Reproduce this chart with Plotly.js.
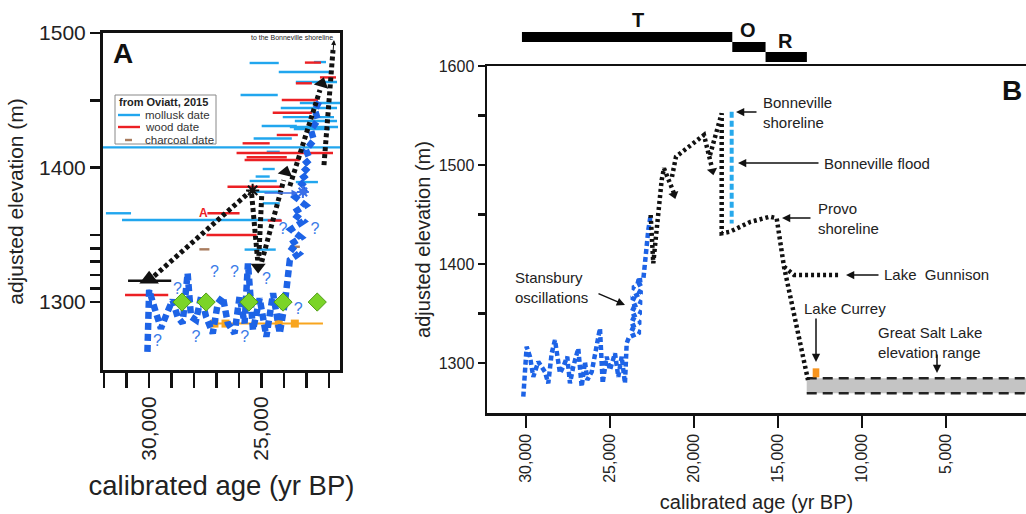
<!DOCTYPE html>
<html><head><meta charset="utf-8">
<script src="https://cdn.plot.ly/plotly-3.0.1.min.js"></script>
<style>html,body{margin:0;padding:0;background:#fff;}#chart{width:1026px;height:514px;}</style>
</head><body><div id="chart"></div>
<script>
// ================= DATA =================
// Panel A – dates from Oviatt (2015): elevation (m), older / younger calibrated age (yr BP)
const mollElev  = [1477.7,1478.4,1471,1463.6,1453.9,1448,1444.2,1437.5,1434.6,1430.9,1430.1,1428.6,1421.6,1415,1411.7,1398.9,1393.3,1390,1389.2,1382,1373.4,1366,1361,1339];
const mollOld   = [25536,22679,24241,23482,25938,23304,24152,24063,23527,25000,23750,23572,25357,32050,24777,24955,25268,25536,23482,25268,24955,31920,31205,25759];
const mollYoung = [24241,22143,21875,21652,24286,21518,21652,21786,21652,23438,21607,21964,23661,21520,24197,24420,24643,24330,22500,24152,24197,30804,24152,24375];
const woodElev  = [1478,1467,1462.6,1450.2,1440.7,1424.2,1418,1410.8,1407.6,1405.6,1385.7,1366,1360.6,1349.8,1305.2];
const woodOld   = [23080,22411,23482,24107,24509,24330,25848,26116,25670,25759,26518,27411,24732,27455,31071];
const woodYoung = [22366,21697,22768,22500,22768,23393,24643,21831,23884,23304,24107,25982,24107,25223,29152];
const charElev  = [1339.2,1341.1];
const charOld   = [27768,23750];
const charYoung = [27322,23304];
// black dated point (triangle) with its age range
const triYr = [30000], triElev = [1317];
const triRangeYr = [30937,29018], triRangeElev = [1315.8,1315.8];
// green diamonds and bar
const greenYr = [28540,27469,25567,24050,22532];
const greenElev = [1300,1300,1300,1300,1300];
const greenBarYr = [29018,28080], greenBarElev = [1300.5,1300.5];
// orange line with squares
const orangeLineYr = [27411,22277], orangeLineElev = [1284,1284];
const orangeYr = [27098,26607,24241,23527];
const orangeElev = [1284,1284,1284,1284];
// Panel A lake-level curve (blue dashed)
const aLakeYr   = [30075,30000,29777,29478,29183,28960,28737,28513,28290,28140,27915,27692,27469,27173,26950,26727,26504,26205,25982,25759,25610,25387,25089,24791,24494,24197,23973,23750,23350,23800,23250,23700,23150,23620,23050,23500,22980,23350,22900,23200,22860,23036,22679,22813,22500,22634,22411];
const aLakeElev = [1263,1309,1296.5,1280.4,1292.8,1301.5,1289.1,1284.2,1321.4,1289.1,1286.6,1304,1289,1276.7,1299,1304,1284.2,1276.7,1304,1284.2,1328.8,1279.2,1302.7,1274.2,1306.5,1276.7,1299,1331.2,1336,1342,1348,1354,1360,1366,1372,1378,1384,1390,1396,1401,1406,1413,1420.4,1427.9,1435.3,1442.7,1450.2];
// Panel A alternative interpretation (black dotted)
const aTrendYr   = [29777,25536,null,25446,25179,null,25000,25134,null,25000,24018,null,23750,22411,null,22232,21830];
const aTrendElev = [1319.3,1381.8,null,1380.3,1331,null,1378.8,1331,null,1329.8,1390.7,null,1386.2,1457.6,null,1401.8,1487.4];
const aArrowYr   = [25156,25156,24018,23929,22411,22322];
const aArrowElev = [1335,1326,1390.7,1396.6,1457.6,1462.5];
const aStarYr = [25402], aStarElev = [1383];
const aBlueStarYr = [23170], aBlueStarElev = [1381.8];
const aQuestYr   = [28737,27098,26205,24791,29630,27915,25759,23380,24050,22634];
const aQuestElev = [1309,1321.3,1321.3,1316.4,1270.5,1273,1273,1294,1353.5,1353.5];

// Panel B – lake hydrograph
const bLakeYr   = [30159,29960,29762,29565,29268,29068,28869,28673,28470,28274,27976,27780,27542,27381,27185,26887,26685,26488,26351,26089,25792,25595,25435,25197,25000,24702,24506,24304,24108,24006,23870,23200,23850,23180,23800,23150,23780,23130,23720,23100,23650,23050,23500,23018,22720,22578];
const bLakeElev = [1266,1316.5,1306.4,1286,1301.3,1296.3,1291,1279.5,1309.8,1323.2,1289.6,1296.3,1306.4,1279.5,1296.3,1314.8,1276,1301.3,1282.8,1291,1319.9,1335,1279.5,1306.4,1293,1309.8,1286,1306.4,1279.5,1319.9,1326,1331,1336,1341,1346,1351,1356,1361,1366,1371,1376,1381,1383,1384,1434.3,1449.5];
const bTrendYr   = [22578,22423,21923,21786,21190,null,21310,21071,19405,18929,null,19048,18351,18351,17857,16667,15476,15078,14643,13214,null,14643,14048,11310];
const bTrendElev = [1449.5,1400.7,1484.8,1496.7,1471.4,null,1488,1508.4,1530.3,1497,null,1510,1552.2,1431,1432.6,1442.4,1447.8,1446.2,1397.3,1282.8,null,1397.3,1389,1389];
const bArrowYr   = [21300,21190,19000,18900];
const bArrowElev = [1476,1470,1502,1494];
const bFloodYr = [17757,17757], bFloodElev = [1553.8,1441];
const gslStartYr = 13290, gslTop = 1284.5, gslBottom = 1269.5;
const curreyYr = [12935,12540], curreyElev = [1285.5,1294.6];
// T / O / R phases
const torLabels = ['T','O','R'];
const torStart  = [30240,17720,15740];
const torEnd    = [17720,15740,13280];
const torLabelYr = [23333,16786,14524];

// ================= STYLE / HELPERS =================
const W = 1026, H = 514;
const FONT = 'Liberation Sans, Arial, Helvetica, sans-serif';
const px = v => v / W, py = v => 1 - v / H;
function bars(e, a, b){ const x=[],y=[]; for(let i=0;i<e.length;i++){x.push(a[i],b[i],null);y.push(e[i],e[i],null);} return {x,y}; }
const base = {hoverinfo:'skip', showlegend:false, cliponaxis:true};
const A = {xaxis:'x', yaxis:'y'}, B = {xaxis:'x2', yaxis:'y2'};

const traces = [];
const mb = bars(mollElev, mollOld, mollYoung);
traces.push({...base,...A, x:mb.x, y:mb.y, mode:'lines', line:{color:'#21a6ee', width:2.4}});
const wb = bars(woodElev, woodOld, woodYoung);
traces.push({...base,...A, x:wb.x, y:wb.y, mode:'lines', line:{color:'#ec2024', width:2.4}});
const cb = bars(charElev, charOld, charYoung);
traces.push({...base,...A, x:cb.x, y:cb.y, mode:'lines', line:{color:'#a97c5e', width:2.4}});
traces.push({...base,...A, x:triRangeYr, y:triRangeElev, mode:'lines', line:{color:'#111', width:2.4}});
traces.push({...base,...A, x:greenBarYr, y:greenBarElev, mode:'lines', line:{color:'#2fd12a', width:2.4}});
traces.push({...base,...A, x:orangeLineYr, y:orangeLineElev, mode:'lines', line:{color:'#f8a51f', width:2}});
traces.push({...base,...A, x:orangeYr, y:orangeElev, mode:'markers', marker:{symbol:'square', size:8, color:'#f8a51f', opacity:1}});
traces.push({...base,...A, x:aLakeYr, y:aLakeElev, mode:'lines', line:{color:'#1d63e6', width:6.5, dash:'7px,4px'}});
traces.push({...base,...A, x:greenYr, y:greenElev, mode:'markers', marker:{symbol:'diamond', size:14, color:'#7bd428', opacity:1, line:{color:'#4f9e16', width:1}}});
traces.push({...base,...A, x:aQuestYr, y:aQuestElev, mode:'text', text:aQuestYr.map(()=>'?'), textfont:{family:FONT, size:16, color:'#3b7be8'}});
traces.push({...base,...A, x:aTrendYr, y:aTrendElev, mode:'lines', line:{color:'#111', width:5, dash:'4px,3px'}});
traces.push({...base,...A, x:aArrowYr, y:aArrowElev, mode:'markers', marker:{symbol:'triangle-up', size:[0,13,0,13,0,13], angleref:'previous', color:'#111', opacity:1, line:{width:0}}});
traces.push({...base,...A, x:triYr, y:triElev, mode:'markers', marker:{symbol:'triangle-up', size:17, color:'#111', opacity:1}});
traces.push({...base,...A, x:aStarYr, y:aStarElev, mode:'markers', marker:{symbol:'asterisk', size:11, line:{color:'#111', width:2}}});
traces.push({...base,...A, x:aBlueStarYr, y:aBlueStarElev, mode:'markers', marker:{symbol:'asterisk', size:10, line:{color:'#3b6fe8', width:2}}});

// Panel B
traces.push({...base,...B, x:[gslStartYr,-3000,-3000,gslStartYr,gslStartYr], y:[gslTop,gslTop,gslBottom,gslBottom,gslTop], mode:'lines', fill:'toself', fillcolor:'#c4c4c4', line:{width:0}});
traces.push({...base,...B, x:[gslStartYr,-3000,null,gslStartYr,-3000], y:[gslTop,gslTop,null,gslBottom,gslBottom], mode:'lines', line:{color:'#222', width:2.5, dash:'10px,6px'}});
traces.push({...base,...B, x:[curreyYr[0],curreyYr[1],curreyYr[1],curreyYr[0],curreyYr[0]], y:[curreyElev[0],curreyElev[0],curreyElev[1],curreyElev[1],curreyElev[0]], mode:'lines', fill:'toself', fillcolor:'#f7941d', line:{width:0}});
traces.push({...base,...B, x:bLakeYr, y:bLakeElev, mode:'lines', line:{color:'#1d63e6', width:4.5, dash:'5px,3px'}});
traces.push({...base,...B, x:bFloodYr, y:bFloodElev, mode:'lines', line:{color:'#27a9ec', width:4, dash:'6px,3px'}});
traces.push({...base,...B, x:bTrendYr, y:bTrendElev, mode:'lines', line:{color:'#111', width:4.5, dash:'3px,3px'}});
traces.push({...base,...B, x:bArrowYr, y:bArrowElev, mode:'markers', marker:{symbol:'triangle-up', size:[0,9,0,9], angleref:'previous', color:'#111', opacity:1, line:{width:0}}});

// shapes
const shapes = [];
const torTop = [32,42,52];
torLabels.forEach((t,i)=>shapes.push({type:'rect', xref:'x2', yref:'paper', x0:torStart[i], x1:torEnd[i], y0:py(torTop[i]+10), y1:py(torTop[i]), fillcolor:'#000', line:{width:0}, layer:'above'}));
// legend box of panel A
shapes.push({type:'rect', xref:'paper', yref:'paper', x0:px(115), x1:px(216), y0:py(144), y1:py(95), line:{color:'#888', width:1}, fillcolor:'rgba(255,255,255,0)'});
shapes.push({type:'line', xref:'paper', yref:'paper', x0:px(118), x1:px(140), y0:py(115), y1:py(115), line:{color:'#21a6ee', width:2.4}});
shapes.push({type:'line', xref:'paper', yref:'paper', x0:px(118), x1:px(140), y0:py(127), y1:py(127), line:{color:'#ec2024', width:2.4}});
shapes.push({type:'line', xref:'paper', yref:'paper', x0:px(125), x1:px(132), y0:py(140), y1:py(140), line:{color:'#a97c5e', width:2.4}});

// annotations
const ann = [];
function txt(t, x, y, o){ ann.push(Object.assign({text:t, x:px(x), y:py(y), xref:'paper', yref:'paper', showarrow:false, xanchor:'left', yanchor:'middle', align:'left', font:{family:FONT, size:15, color:'#222'}}, o||{})); }
function arr(hx, hy, ax, ay, o){ ann.push(Object.assign({text:'', x:px(hx), y:py(hy), xref:'paper', yref:'paper', showarrow:true, ax:ax, ay:ay, arrowhead:2, arrowsize:1.1, arrowwidth:1.5, arrowcolor:'#111'}, o||{})); }
txt('<b>A</b>', 123, 54, {xanchor:'center', font:{family:FONT, size:28, color:'#111'}});
txt('<b>B</b>', 1012, 90, {xanchor:'center', font:{family:FONT, size:28, color:'#111'}});
txt('to the Bonneville shoreline', 292, 38, {xanchor:'center', font:{family:FONT, size:7, color:'#222'}});
arr(334, 40, -1, 12, {arrowwidth:1, arrowsize:1});
txt('<b>from Oviatt, 2015</b>', 117, 102, {font:{family:FONT, size:11, color:'#222'}});
txt('mollusk date', 143, 115, {font:{family:FONT, size:11.5, color:'#333'}});
txt('wood date', 143, 127, {font:{family:FONT, size:11.5, color:'#333'}});
txt('charcoal date', 143, 140, {font:{family:FONT, size:11.5, color:'#333'}});
txt('<b>A</b>', 203, 213, {xanchor:'center', font:{family:FONT, size:12, color:'#ec2024'}});
arr(298, 193, -35, 0, {arrowcolor:'#3b6fe8', arrowwidth:1.3, arrowsize:1});
torLabels.forEach((t,i)=>ann.push({text:'<b>'+t+'</b>', x:torLabelYr[i], xref:'x2', y:py([20,30,41][i]), yref:'paper', showarrow:false, xanchor:'center', yanchor:'middle', font:{family:FONT, size:20, color:'#111'}}));
txt('Bonneville<br>shoreline', 761, 112);
arr(736, 112, 22, 0);
txt('Bonneville flood', 822, 163);
arr(738, 163, 82, 0);
txt('Provo<br>shoreline', 816, 218);
arr(782, 218, 30, 0);
txt('Lake\u00a0 Gunnison', 882, 274);
arr(846, 275, 34, 0);
txt('Stansbury<br>oscillations', 513, 287);
arr(625, 305, -28, -12);
txt('Lake Currey', 802, 308);
arr(816, 362, 0, -45);
txt('Great Salt Lake<br>elevation range', 876, 342);
arr(937, 373, 0, -20);

const axA = {showline:true, linewidth:3, linecolor:'#111', mirror:true, ticks:'outside', tickwidth:2.5, tickcolor:'#111', showgrid:false, zeroline:false, tickfont:{family:FONT, size:21, color:'#222'}};
const axB = {showline:true, linewidth:2.5, linecolor:'#111', ticks:'outside', tickwidth:2.5, tickcolor:'#111', showgrid:false, zeroline:false, tickfont:{family:FONT, size:16, color:'#222'}};

const aXt = [32000,31000,30000,29000,28000,27000,26000,25000,24000,23000,22000];
const aYt = [1300,1310,1320,1330,1340,1350,1400,1450,1500];
const bXt = [30000,25000,20000,15000,10000,5000,0];
const bYt = [1300,1350,1400,1450,1500,1550,1600];
const fmt = v => v.toLocaleString('en-US');

const layout = {
  width:W, height:H, margin:{l:0,r:0,t:0,b:0}, paper_bgcolor:'#fff', plot_bgcolor:'rgba(0,0,0,0)',
  showlegend:false, hovermode:false, font:{family:FONT, color:'#222'},
  xaxis:{...axA, domain:[px(103), px(340)], range:[32050,21520], anchor:'y', ticklen:15, tickangle:-90,
    tickvals:aXt, ticktext:aXt.map(v => (v===30000||v===25000)?fmt(v):''),
    title:{text:'calibrated age (yr BP)', font:{family:FONT, size:27.5, color:'#222'}, standoff:17}},
  yaxis:{...axA, domain:[py(370), py(33)], range:[1249.5,1500], anchor:'x', ticklen:10,
    tickvals:aYt, ticktext:aYt.map(v => v%100===0?String(v):''),
    title:{text:'adjusted elevation (m)', font:{family:FONT, size:21, color:'#222'}, standoff:10}},
  xaxis2:{...axB, mirror:true, domain:[px(487), 1], range:[32320,238], anchor:'y2', ticklen:12, tickangle:-90,
    tickvals:bXt, ticktext:bXt.map(fmt),
    title:{text:'calibrated age (yr BP)', font:{family:FONT, size:20, color:'#222'}, standoff:13}},
  yaxis2:{...axB, domain:[py(413), py(66)], range:[1249.5,1600], anchor:'x2', ticklen:7,
    tickvals:bYt, ticktext:bYt.map(v => v%100===0?String(v):''),
    title:{text:'adjusted elevation (m)', font:{family:FONT, size:20, color:'#222'}, standoff:3}},
  shapes:shapes, annotations:ann
};
Plotly.newPlot('chart', traces, layout, {staticPlot:true, displayModeBar:false});
</script></body></html>
